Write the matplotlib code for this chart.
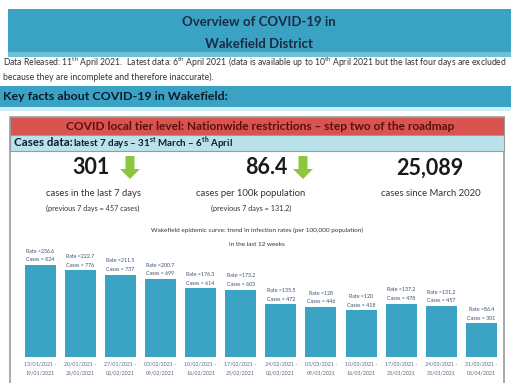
import matplotlib
matplotlib.use('Agg')
import matplotlib.pyplot as plt
from matplotlib.patches import Rectangle, FancyArrow

plt.rcParams['font.family'] = ['Lato', 'DejaVu Sans']
plt.rcParams['mathtext.fontset'] = 'custom'
plt.rcParams['mathtext.rm'] = 'Lato'
plt.rcParams['mathtext.bf'] = 'Lato:bold'

# weekly data, last 12 weeks
week_start = ['13/01/2021', '20/01/2021', '27/01/2021', '03/02/2021', '10/02/2021', '17/02/2021',
              '24/02/2021', '03/03/2021', '10/03/2021', '17/03/2021', '24/03/2021', '31/03/2021']
week_end = ['19/01/2021', '26/01/2021', '02/02/2021', '09/02/2021', '16/02/2021', '23/02/2021',
            '02/03/2021', '09/03/2021', '16/03/2021', '23/03/2021', '30/03/2021', '06/04/2021']
rates = [236.6, 222.7, 211.5, 200.7, 176.3, 173.2, 135.5, 128, 120, 137.2, 131.2, 86.4]
cases = [824, 776, 737, 699, 614, 603, 472, 446, 418, 478, 457, 301]

big_numbers = ['301', '86.4', '25,089']
big_labels = ['cases in the last 7 days', 'cases per 100k population', 'cases since March 2020']
big_notes = ['(previous 7 days = 457 cases)', '(previous 7 days = 131.2)', '']

teal = '#3aa2c2'
navy = '#1c2b45'
W, H = 511, 383

fig = plt.figure(figsize=(W / 100, H / 100), dpi=100)
ax = fig.add_axes([0, 0, 1, 1])
ax.set_xlim(0, W)
ax.set_ylim(H, 0)
ax.axis('off')

# header band
ax.add_patch(Rectangle((8, 9), W - 8, 48, fc=teal, ec='none'))
ax.add_patch(Rectangle((8, 52), W - 8, 5, fc='#6cc0d8', ec='none'))
ax.text(259, 22, 'Overview of COVID-19 in', ha='center', va='center',
        fontsize=9.5, fontweight='bold', color=navy)
ax.text(259, 44, 'Wakefield District', ha='center', va='center',
        fontsize=9.5, fontweight='bold', color=navy)

ax.text(3, 63, r'Data Released: 11$^{\mathrm{th}}$ April 2021.  Latest data: 6$^{\mathrm{th}}$ April 2021 '
        r'(data is available up to 10$^{\mathrm{th}}$ April 2021 but the last four days are excluded',
        ha='left', va='center', fontsize=6.2, color='#333333')
ax.text(3, 77, 'because they are incomplete and therefore inaccurate).',
        ha='left', va='center', fontsize=6.2, color='#333333')

ax.add_patch(Rectangle((0, 86), W, 21, fc=teal, ec='none'))
ax.add_patch(Rectangle((0, 107), W, 4, fc='#cdeef5', ec='none'))
ax.text(3, 96, 'Key facts about COVID-19 in Wakefield:', ha='left', va='center',
        fontsize=8.9, fontweight='bold', color='#0e1a2e')

# outer box
ax.add_patch(Rectangle((10, 117), 494, 280, fc='white', ec='#9a9a9a', lw=1.2))
ax.add_patch(Rectangle((10, 117), 494, 18, fc='#d9534f', ec='#9a9a9a', lw=0.8))
ax.text(260, 127, 'COVID local tier level: Nationwide restrictions \u2013 step two of the roadmap',
        ha='center', va='center', fontsize=8.6, fontweight='bold', color='#5a0f10')
ax.add_patch(Rectangle((10, 135), 494, 16, fc='#b9e2ea', ec='#9a9a9a', lw=0.8))
ax.text(14, 143, 'Cases data:', ha='left', va='center', fontsize=8.3, fontweight='bold', color='#0e1a2e')
ax.text(73, 143.5, 'latest 7 days \u2013 31$^{\\mathbf{st}}$ March \u2013 6$^{\\mathbf{th}}$ April',
        ha='left', va='center', fontsize=7.0, fontweight='bold', color='#0e1a2e')

# key figures
num_x = [91, 266, 430]
lab_x = [93, 251, 431]
for i in range(3):
    ax.text(num_x[i], 168, big_numbers[i], ha='center', va='center',
            fontsize=15.5, fontweight='bold', color='#1a1a1a')
    ax.text(lab_x[i], 193, big_labels[i], ha='center', va='center', fontsize=6.8, color='#333333')
    if big_notes[i]:
        ax.text(lab_x[i], 208, big_notes[i], ha='center', va='center', fontsize=5.2, color='#333333')

for x0 in [130, 303]:
    ax.add_patch(FancyArrow(x0, 156, 0, 23, width=9, head_width=20, head_length=10,
                            length_includes_head=True, fc='#8cc63f', ec='none'))

ax.text(257, 230, 'Wakefield epidemic curve: trend in infection rates (per 100,000 population)',
        ha='center', va='center', fontsize=4.6, color='#333333')
ax.text(257, 245, 'in the last 12 weeks', ha='center', va='center', fontsize=4.6, color='#333333')

# bar chart
ax2 = fig.add_axes([20 / W, (H - 357) / H, 481.5 / W, 116.7 / H])
pos = list(range(len(rates)))
ax2.bar(pos, rates, width=0.77, color=teal)
ax2.set_xlim(-0.5, len(rates) - 0.5)
ax2.set_ylim(0, 300)
ax2.patch.set_alpha(0)
for s in ax2.spines.values():
    s.set_visible(False)
ax2.set_yticks([])
ax2.set_xticks(pos)
ax2.set_xticklabels([a + ' -\n' + b for a, b in zip(week_start, week_end)],
                    fontsize=3.8, color='#5a6a85', linespacing=2.1)
ax2.tick_params(axis='x', length=0, pad=3)
for p, r, c in zip(pos, rates, cases):
    ax2.annotate('Rate =%g\nCases = %d' % (r, c), (p, r), xytext=(0, 2), textcoords='offset points',
                 ha='center', va='bottom', fontsize=3.8, color='#3d5070', linespacing=1.9)

fig.savefig('out.png', dpi=100)
